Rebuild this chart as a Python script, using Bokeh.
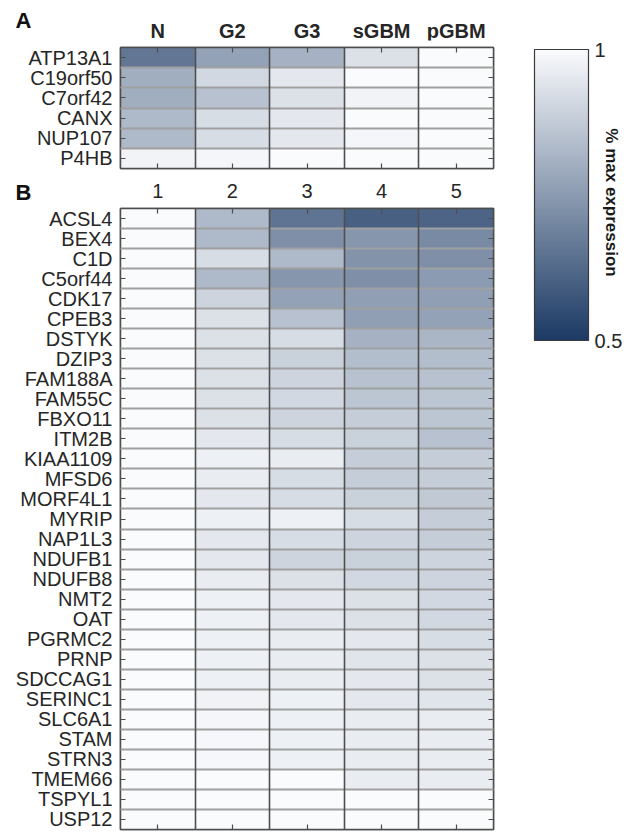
import math
from bokeh.plotting import figure
from bokeh.models import (ColumnDataSource, Range1d, FixedTicker, LinearAxis, Grid,
                          LinearColorMapper, ColorBar, CustomJSTickFormatter)
from bokeh.layouts import row, column
from bokeh.transform import transform
from bokeh.core.properties import value
from bokeh.embed import file_html
from bokeh.resources import INLINE

FONT = "Liberation Sans"
TXT = "#262626"
EDGE = "#4d4d4d"

# ---------------- Panel A data ----------------
genes_a = ["ATP13A1", "C19orf50", "C7orf42", "CANX", "NUP107", "P4HB"]
groups_a = ["N", "G2", "G3", "sGBM", "pGBM"]
n_a = [0.66, 0.80, 0.80, 0.83, 0.83, 0.98]
g2_a = [0.77, 0.91, 0.85, 0.92, 0.92, 0.985]
g3_a = [0.81, 0.95, 0.93, 0.95, 0.95, 1.0]
sgbm_a = [0.93, 1.0, 0.98, 1.0, 0.985, 1.0]
pgbm_a = [1.0, 1.0, 1.0, 1.0, 1.0, 1.0]

# ---------------- Panel B data ----------------
genes_b = ["ACSL4", "BEX4", "C1D", "C5orf44", "CDK17", "CPEB3", "DSTYK", "DZIP3",
           "FAM188A", "FAM55C", "FBXO11", "ITM2B", "KIAA1109", "MFSD6", "MORF4L1",
           "MYRIP", "NAP1L3", "NDUFB1", "NDUFB8", "NMT2", "OAT", "PGRMC2", "PRNP",
           "SDCCAG1", "SERINC1", "SLC6A1", "STAM", "STRN3", "TMEM66", "TSPYL1", "USP12"]
groups_b = ["1", "2", "3", "4", "5"]
c1_b = [1.0, 1.0, 1.0, 1.0, 1.0, 1.0, 1.0, 1.0, 1.0, 1.0, 1.0, 1.0, 1.0, 1.0, 1.0, 1.0,
        1.0, 1.0, 1.0, 1.0, 1.0, 1.0, 1.0, 1.0, 1.0, 1.0, 1.0, 1.0, 1.0, 1.0, 1.0]
c2_b = [0.83, 0.83, 0.92, 0.83, 0.90, 0.93, 0.93, 0.93, 0.93, 0.93, 0.93, 0.95, 0.97, 0.96,
        0.95, 0.97, 0.95, 0.95, 0.96, 0.97, 0.97, 0.97, 0.97, 0.97, 0.975, 0.985, 0.99, 0.99,
        1.0, 1.0, 1.0]
c3_b = [0.65, 0.72, 0.83, 0.74, 0.77, 0.85, 0.92, 0.89, 0.90, 0.91, 0.90, 0.92, 0.96, 0.92,
        0.92, 0.97, 0.92, 0.90, 0.93, 0.95, 0.95, 0.96, 0.96, 0.96, 0.97, 0.97, 0.97, 0.97,
        1.0, 1.0, 1.0]
c4_b = [0.60, 0.74, 0.73, 0.72, 0.76, 0.76, 0.81, 0.84, 0.85, 0.86, 0.88, 0.89, 0.88, 0.88,
        0.89, 0.92, 0.90, 0.89, 0.91, 0.93, 0.93, 0.95, 0.94, 0.95, 0.95, 0.96, 0.96, 0.96,
        0.96, 1.0, 1.0]
c5_b = [0.61, 0.71, 0.72, 0.75, 0.76, 0.77, 0.82, 0.84, 0.85, 0.86, 0.86, 0.85, 0.88, 0.88,
        0.87, 0.88, 0.88, 0.90, 0.90, 0.91, 0.91, 0.92, 0.93, 0.93, 0.94, 0.96, 0.96, 0.96,
        0.96, 1.0, 1.0]

# ---------------- colour map ----------------
dark = (28, 58, 100)
light = (250, 251, 253)
palette = []
for i in range(256):
    t = i / 255
    r, g, b = (round(dark[k] + (light[k] - dark[k]) * t) for k in range(3))
    palette.append("#%02x%02x%02x" % (r, g, b))
mapper = LinearColorMapper(palette=palette, low=0.5, high=1.0)

# ---------------- geometry (pixels) ----------------
LEFT, FW, RIGHT = 120, 373, 7


def long_form(columns):
    xs, ys, vs = [], [], []
    for ci, col in enumerate(columns):
        for gi, v in enumerate(col):
            xs.append(ci + 1)
            ys.append(gi + 1)
            vs.append(v)
    return ColumnDataSource(dict(x=xs, y=ys, v=vs))


def style_axis(ax, labels=True, standoff=8):
    ax.axis_line_color = EDGE
    ax.axis_line_width = 1.5
    ax.major_tick_in = 5
    ax.major_tick_out = 0
    ax.major_tick_line_color = EDGE
    ax.major_tick_line_width = 1.2
    ax.minor_tick_line_color = None
    ax.major_label_text_font = FONT
    ax.major_label_text_color = TXT
    if labels:
        ax.major_label_text_font_size = "20px"
        ax.major_label_standoff = standoff
    else:
        ax.formatter = CustomJSTickFormatter(code='return "";')
        ax.major_label_text_font_size = "1px"
        ax.major_label_standoff = 0


def header(top, frame_h, bottom, panel, labels, label_mid, bold):
    s = figure(frame_width=FW, frame_height=frame_h, x_range=Range1d(0.5, 5.5),
               y_range=Range1d(frame_h, 0), x_axis_location=None, y_axis_location="left",
               toolbar_location=None, output_backend="svg", min_border_left=LEFT,
               min_border_right=RIGHT, min_border_top=top, min_border_bottom=bottom,
               outline_line_color=None, background_fill_color="white",
               border_fill_color="white")
    s.xgrid.visible = False
    s.ygrid.visible = False
    ax = s.yaxis[0]
    ax.ticker = FixedTicker(ticks=[])
    ax.axis_line_color = None
    ax.major_tick_line_color = None
    ax.minor_tick_line_color = None
    ax.major_label_standoff = 0
    ax.axis_label = panel
    ax.axis_label_orientation = "horizontal"
    ax.axis_label_standoff = 89
    ax.axis_label_text_font = FONT
    ax.axis_label_text_font_size = "22px"
    ax.axis_label_text_font_style = "bold"
    ax.axis_label_text_color = "#111111"
    s.text(x=list(range(1, len(labels) + 1)), y=[label_mid] * len(labels), text=labels,
           text_font=value(FONT), text_font_size="20px",
           text_font_style="bold" if bold else "normal", text_color=TXT,
           text_align="center", text_baseline="middle")
    return s


def heatmap(genes, columns, frame_h):
    n = len(genes)
    p = figure(frame_width=FW, frame_height=frame_h,
               x_range=Range1d(0.5, 5.5), y_range=Range1d(n + 0.5, 0.5),
               x_axis_location="above", toolbar_location=None, output_backend="svg",
               min_border_left=LEFT, min_border_right=RIGHT, min_border_top=3,
               min_border_bottom=3, background_fill_color="white",
               border_fill_color="white")
    p.xgrid.visible = False
    p.ygrid.visible = False
    p.outline_line_color = EDGE
    p.outline_line_width = 1.5

    p.rect(x="x", y="y", width=1, height=1, source=long_form(columns),
           fill_color=transform("v", mapper), line_color=None)

    p.add_layout(Grid(dimension=1, ticker=FixedTicker(ticks=[i + 0.5 for i in range(1, n)]),
                      grid_line_color="#a0a0a0", grid_line_width=2, level="annotation"))
    p.add_layout(Grid(dimension=0, ticker=FixedTicker(ticks=[1.5, 2.5, 3.5, 4.5]),
                      grid_line_color="#4f4f4f", grid_line_width=1.6, level="annotation"))

    top_ax = p.xaxis[0]
    top_ax.ticker = FixedTicker(ticks=[1, 2, 3, 4, 5])
    style_axis(top_ax, labels=False)

    left_ax = p.yaxis[0]
    left_ax.ticker = FixedTicker(ticks=list(range(1, n + 1)))
    left_ax.major_label_overrides = {i + 1: g for i, g in enumerate(genes)}
    style_axis(left_ax, standoff=8)

    right_ax = LinearAxis(ticker=FixedTicker(ticks=list(range(1, n + 1))))
    style_axis(right_ax, labels=False)
    p.add_layout(right_ax, "right")

    bot_ax = LinearAxis(ticker=FixedTicker(ticks=[1, 2, 3, 4, 5]))
    style_axis(bot_ax, labels=False)
    p.add_layout(bot_ax, "below")
    return p


# strip A: page y 0..44 (frame 0..40); strip B: page y 171..205 (frame 179..205)
ha = header(0, 40, 4, "A", groups_a, 30, True)
pa = heatmap(genes_a, [n_a, g2_a, g3_a, sgbm_a, pgbm_a], 121)
hb = header(8, 26, 0, "B", groups_b, 11, False)
pb = heatmap(genes_b, [c1_b, c2_b, c3_b, c4_b, c5_b], 621)

# ---------------- colour bar ----------------
CBW, CBH = 126, 350
pc = figure(frame_width=CBW, frame_height=CBH, x_range=Range1d(0, CBW),
            y_range=Range1d(CBH, 0), x_axis_location=None, y_axis_location=None,
            toolbar_location=None, output_backend="svg", min_border=0,
            outline_line_color=None, background_fill_color="white",
            border_fill_color="white")
pc.xgrid.visible = False
pc.ygrid.visible = False
cb = ColorBar(color_mapper=mapper, ticker=FixedTicker(ticks=[0.5, 1.0]),
              formatter=CustomJSTickFormatter(code="return tick.toString();"),
              location=(34, 10), width=54, height=291, padding=0, margin=0,
              bar_line_color="#3a3a3a", bar_line_width=1.2, major_tick_line_color=None,
              minor_tick_line_color=None, label_standoff=6,
              major_label_text_font_size="20px", major_label_text_font=FONT,
              major_label_text_color=TXT, background_fill_alpha=0, border_line_color=None)
pc.add_layout(cb, "center")
pc.text(x=[111], y=[202], text=["% max expression"], angle=-math.pi / 2,
        text_font=value(FONT), text_font_size="17px", text_font_style="bold",
        text_color="#1a1a1a", text_align="center", text_baseline="middle")

layout = row(column(ha, pa, hb, pb), pc)
open("out.html", "w").write(file_html(layout, INLINE))
